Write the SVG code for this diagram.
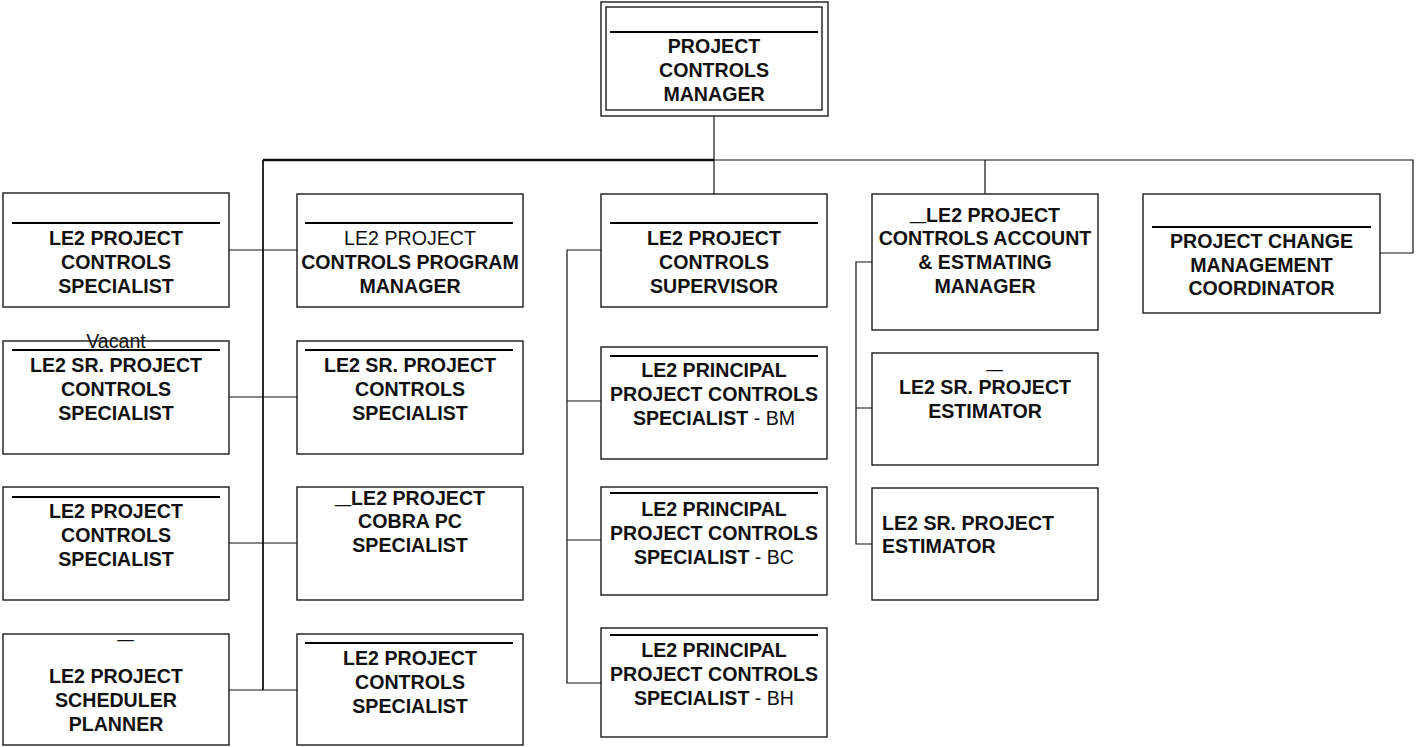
<svg xmlns="http://www.w3.org/2000/svg" width="1416" height="747" viewBox="0 0 1416 747">
<style>
.box{fill:#fff;stroke:#1a1a1a;stroke-width:1.4}
.rule{stroke:#000;stroke-width:2}
.t{font-family:"Liberation Sans",Arial,sans-serif;font-size:19.6px;font-weight:bold;fill:#111;text-anchor:middle}
.r{font-weight:normal}
.u{font-size:29px}
.c{stroke:#111;stroke-width:1.2;fill:none}
.thick{stroke-width:2.6}
.trunk{stroke-width:1.8}
</style>
<rect width="1416" height="747" fill="#fff"/>
<g id="connectors">
<path class="c" d="M714 116V160"/>
<path class="c thick" d="M263 160H714"/>
<path class="c" d="M714 160H1413V253H1380"/>
<path class="c" d="M714 160V194"/>
<path class="c" d="M985 160V194"/>
<path class="c trunk" d="M263 160V690"/>
<path class="c" d="M229 250H297M229 397H297M229 543H297M229 690H297"/>
<path class="c" d="M601 250H567V683H601M567 401H601M567 540H601"/>
<path class="c" d="M872 262H856V544H872M856 408H872"/>
</g>
<g id="manager">
<rect class="box" x="601" y="2" width="227" height="114"/>
<rect class="box" x="606" y="7" width="216" height="103"/>
<line class="rule" x1="610" y1="32" x2="818" y2="32"/>
<text class="t" x="714" y="53">PROJECT</text>
<text class="t" x="714" y="77">CONTROLS</text>
<text class="t" x="714" y="101">MANAGER</text>
</g>
<g id="a1">
<rect class="box" x="3" y="193" width="226" height="114"/>
<line class="rule" x1="12" y1="223" x2="220" y2="223"/>
<text class="t" x="116" y="245">LE2 PROJECT</text>
<text class="t" x="116" y="269">CONTROLS</text>
<text class="t" x="116" y="293">SPECIALIST</text>
</g>
<g id="a2">
<rect class="box" x="3" y="341" width="226" height="113"/>
<line class="rule" x1="12" y1="350" x2="220" y2="350"/>
<text class="t r" x="116" y="348">Vacant</text>
<text class="t" x="116" y="372">LE2 SR. PROJECT</text>
<text class="t" x="116" y="396">CONTROLS</text>
<text class="t" x="116" y="420">SPECIALIST</text>
</g>
<g id="a3">
<rect class="box" x="3" y="487" width="226" height="113"/>
<line class="rule" x1="12" y1="497" x2="220" y2="497"/>
<text class="t" x="116" y="518">LE2 PROJECT</text>
<text class="t" x="116" y="542">CONTROLS</text>
<text class="t" x="116" y="566">SPECIALIST</text>
</g>
<g id="a4">
<rect class="box" x="3" y="634" width="226" height="111"/>
<text class="t u" x="125.5" y="638">_</text>
<text class="t" x="116" y="683">LE2 PROJECT</text>
<text class="t" x="116" y="707">SCHEDULER</text>
<text class="t" x="116" y="731">PLANNER</text>
</g>
<g id="b1">
<rect class="box" x="297" y="194" width="226" height="113"/>
<line class="rule" x1="305" y1="223" x2="513" y2="223"/>
<text class="t r" x="410" y="245">LE2 PROJECT</text>
<text class="t" x="410" y="269">CONTROLS PROGRAM</text>
<text class="t" x="410" y="293">MANAGER</text>
</g>
<g id="b2">
<rect class="box" x="297" y="341" width="226" height="113"/>
<line class="rule" x1="305" y1="350" x2="513" y2="350"/>
<text class="t" x="410" y="372">LE2 SR. PROJECT</text>
<text class="t" x="410" y="396">CONTROLS</text>
<text class="t" x="410" y="420">SPECIALIST</text>
</g>
<g id="b3">
<rect class="box" x="297" y="487" width="226" height="113"/>
<text class="t" x="410" y="505"><tspan class="u" dy="-2">_</tspan><tspan dy="2">LE2 PROJECT</tspan></text>
<text class="t" x="410" y="528">COBRA PC</text>
<text class="t" x="410" y="552">SPECIALIST</text>
</g>
<g id="b4">
<rect class="box" x="297" y="634" width="226" height="111"/>
<line class="rule" x1="305" y1="643" x2="513" y2="643"/>
<text class="t" x="410" y="665">LE2 PROJECT</text>
<text class="t" x="410" y="689">CONTROLS</text>
<text class="t" x="410" y="713">SPECIALIST</text>
</g>
<g id="c1">
<rect class="box" x="601" y="194" width="226" height="113"/>
<line class="rule" x1="610" y1="223" x2="818" y2="223"/>
<text class="t" x="714" y="245">LE2 PROJECT</text>
<text class="t" x="714" y="269">CONTROLS</text>
<text class="t" x="714" y="293">SUPERVISOR</text>
</g>
<g id="c2">
<rect class="box" x="601" y="347" width="226" height="112"/>
<line class="rule" x1="610" y1="356" x2="818" y2="356"/>
<text class="t" x="714" y="377">LE2 PRINCIPAL</text>
<text class="t" x="714" y="401">PROJECT CONTROLS</text>
<text class="t" x="714" y="425">SPECIALIST<tspan class="r"> - BM</tspan></text>
</g>
<g id="c3">
<rect class="box" x="601" y="487" width="226" height="108"/>
<line class="rule" x1="610" y1="493" x2="818" y2="493"/>
<text class="t" x="714" y="516">LE2 PRINCIPAL</text>
<text class="t" x="714" y="540">PROJECT CONTROLS</text>
<text class="t" x="714" y="564">SPECIALIST<tspan class="r"> - BC</tspan></text>
</g>
<g id="c4">
<rect class="box" x="601" y="628" width="226" height="109"/>
<line class="rule" x1="610" y1="635" x2="818" y2="635"/>
<text class="t" x="714" y="657">LE2 PRINCIPAL</text>
<text class="t" x="714" y="681">PROJECT CONTROLS</text>
<text class="t" x="714" y="705">SPECIALIST<tspan class="r"> - BH</tspan></text>
</g>
<g id="d1">
<rect class="box" x="872" y="194" width="226" height="136"/>
<text class="t" x="985" y="222"><tspan class="u" dy="-2">_</tspan><tspan dy="2">LE2 PROJECT</tspan></text>
<text class="t" x="985" y="245">CONTROLS ACCOUNT</text>
<text class="t" x="985" y="269">&amp; ESTMATING</text>
<text class="t" x="985" y="293">MANAGER</text>
</g>
<g id="d2">
<rect class="box" x="872" y="353" width="226" height="112"/>
<text class="t u" x="994.5" y="368">_</text>
<text class="t" x="985" y="394">LE2 SR. PROJECT</text>
<text class="t" x="985" y="418">ESTIMATOR</text>
</g>
<g id="d3">
<rect class="box" x="872" y="488" width="226" height="112"/>
<text class="t" x="882" y="530" text-anchor="start" style="text-anchor:start">LE2 SR. PROJECT</text>
<text class="t" x="882" y="553" style="text-anchor:start">ESTIMATOR</text>
</g>
<g id="e1">
<rect class="box" x="1143" y="194" width="237" height="119"/>
<line class="rule" x1="1152" y1="227" x2="1371" y2="227"/>
<text class="t" x="1261.5" y="248">PROJECT CHANGE</text>
<text class="t" x="1261.5" y="272">MANAGEMENT</text>
<text class="t" x="1261.5" y="295">COORDINATOR</text>
</g>
</svg>
